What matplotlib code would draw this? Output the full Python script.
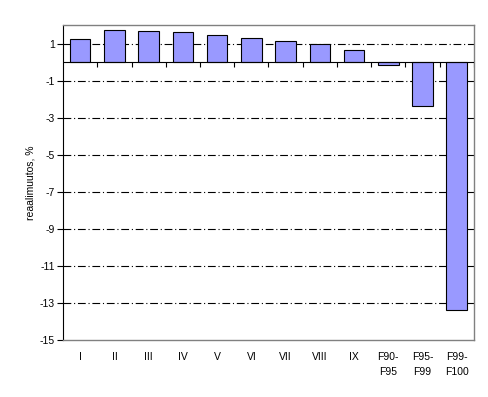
import matplotlib.pyplot as plt
import numpy as np

plt.rcParams['font.family'] = ['Liberation Sans', 'DejaVu Sans']

# data
categories = ['I', 'II', 'III', 'IV', 'V', 'VI', 'VII', 'VIII', 'IX',
              'F90-\nF95', 'F95-\nF99', 'F99-\nF100']
values = [1.25, 1.74, 1.69, 1.63, 1.47, 1.31, 1.15, 0.98, 0.66,
          -0.15, -2.37, -13.4]
yticks = [-15, -13, -11, -9, -7, -5, -3, -1, 1]
ymin, ymax = -15, 2

fig = plt.figure(figsize=(4.89, 3.97), dpi=100)
ax = fig.add_axes([0.129, 0.1436, 0.84, 0.793])

x = np.arange(len(categories))
ax.bar(x, values, width=0.6, color='#9999FF', edgecolor='black',
       linewidth=0.8, zorder=3)

# dash-dot gridlines at odd values
for v in yticks[1:]:
    ax.axhline(v, color='black', linewidth=0.8,
               linestyle=(0, (7, 2.5, 1, 2.5)), zorder=1)
ax.axhline(0, color='black', linewidth=0.8, zorder=4)

# tick marks between categories hanging below the zero line
bounds = np.arange(len(categories) + 1) - 0.5
ax.vlines(bounds[1:], -0.25, 0, color='black', linewidth=0.8, zorder=4)

ax.set_xlim(-0.5, len(categories) - 0.5)
ax.set_ylim(ymin, ymax)
ax.set_yticks(yticks)
ax.set_yticklabels([str(v) for v in yticks], fontsize=7.5)
ax.tick_params(axis='y', length=4, width=0.8, direction='out', pad=2)

ax.set_xticks(x)
ax.set_xticklabels(categories, fontsize=7.5, linespacing=1.6)
ax.tick_params(axis='x', length=0, pad=9)

for s in ['top', 'right', 'bottom']:
    ax.spines[s].set_color('#808080')
    ax.spines[s].set_linewidth(1)
ax.spines['left'].set_color('black')
ax.spines['left'].set_linewidth(0.8)

ax.set_ylabel('reaalimuutos, %', fontsize=7.5, labelpad=3)

fig.savefig('out.png', dpi=100)
